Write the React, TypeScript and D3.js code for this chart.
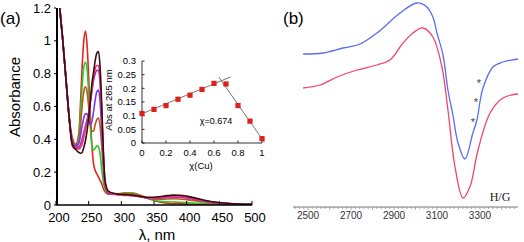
import React from "react";
import * as d3 from "d3";

// ---- panel (a): UV-vis titration ----
const wavelengths = [
  200, 205, 210, 215, 220, 225, 230, 235, 237.5, 240, 242.5, 245, 247.5, 250, 252.5, 255, 257.5, 260,
  262.5, 265, 267.5, 270, 272.5, 275, 280, 290, 300, 310, 320, 330, 340, 350, 360, 370, 380, 390, 400,
  420, 440, 460, 480, 500,
];

const absRed = [
  1.7, 1.25, 1.02, 0.78, 0.54, 0.41, 0.37, 0.44, 0.62, 0.84, 1.0, 1.06, 0.98, 0.78, 0.54, 0.36, 0.25, 0.21,
  0.19, 0.17, 0.15, 0.13, 0.1, 0.08, 0.066, 0.066, 0.07, 0.075, 0.072, 0.058, 0.042, 0.028, 0.017, 0.011,
  0.008, 0.007, 0.006, 0.005, 0.004, 0.003, 0.002, 0.002,
];
const absGreen = [
  1.7, 1.25, 1.02, 0.78, 0.54, 0.39, 0.36, 0.42, 0.56, 0.72, 0.84, 0.87, 0.83, 0.68, 0.48, 0.36, 0.335,
  0.345, 0.36, 0.355, 0.31, 0.22, 0.14, 0.095, 0.07, 0.068, 0.07, 0.073, 0.068, 0.055, 0.04, 0.03, 0.022,
  0.019, 0.018, 0.017, 0.015, 0.01, 0.007, 0.005, 0.003, 0.002,
];
const absBrown = [
  1.7, 1.25, 1.02, 0.78, 0.54, 0.36, 0.34, 0.38, 0.48, 0.6, 0.69, 0.72, 0.69, 0.6, 0.5, 0.45, 0.45,
  0.49, 0.52, 0.53, 0.48, 0.36, 0.22, 0.12, 0.07, 0.065, 0.066, 0.066, 0.063, 0.052, 0.042, 0.036, 0.035,
  0.037, 0.038, 0.037, 0.033, 0.022, 0.012, 0.007, 0.004, 0.003,
];
const absViolet = [
  1.7, 1.25, 1.02, 0.78, 0.54, 0.38, 0.36, 0.38, 0.42, 0.48, 0.53, 0.555, 0.555, 0.52, 0.49, 0.51, 0.57,
  0.64, 0.69, 0.7, 0.63, 0.46, 0.26, 0.13, 0.075, 0.066, 0.062, 0.06, 0.058, 0.05, 0.043, 0.041, 0.043,
  0.047, 0.049, 0.048, 0.043, 0.028, 0.016, 0.009, 0.005, 0.003,
];
const absPurple = [
  1.7, 1.25, 1.02, 0.78, 0.54, 0.37, 0.35, 0.35, 0.37, 0.4, 0.44, 0.48, 0.52, 0.56, 0.62, 0.69, 0.76,
  0.8, 0.82, 0.82, 0.74, 0.54, 0.3, 0.14, 0.08, 0.067, 0.062, 0.059, 0.056, 0.05, 0.044, 0.043, 0.046,
  0.05, 0.052, 0.051, 0.046, 0.03, 0.017, 0.01, 0.005, 0.003,
];
const absMagenta = [
  1.7, 1.25, 1.02, 0.78, 0.54, 0.37, 0.35, 0.34, 0.35, 0.37, 0.41, 0.46, 0.5, 0.56, 0.63, 0.71, 0.78,
  0.83, 0.85, 0.85, 0.77, 0.57, 0.31, 0.14, 0.08, 0.066, 0.06, 0.058, 0.055, 0.05, 0.044, 0.043, 0.046,
  0.05, 0.052, 0.051, 0.046, 0.03, 0.017, 0.01, 0.005, 0.003,
];
const absDark = [
  1.7, 1.25, 1.02, 0.78, 0.54, 0.37, 0.34, 0.32, 0.315, 0.32, 0.35, 0.39, 0.45, 0.53, 0.63, 0.74, 0.81,
  0.88, 0.925, 0.935, 0.84, 0.61, 0.33, 0.15, 0.085, 0.07, 0.065, 0.062, 0.058, 0.052, 0.047, 0.047,
  0.052, 0.057, 0.06, 0.059, 0.054, 0.036, 0.02, 0.011, 0.006, 0.004,
];

const uvSeries = [
  { values: absRed, color: "#e8231d" },
  { values: absGreen, color: "#2cc52a" },
  { values: absBrown, color: "#b8561e" },
  { values: absViolet, color: "#7c35e6" },
  { values: absPurple, color: "#9b2fb8" },
  { values: absMagenta, color: "#f0347c" },
  { values: absDark, color: "#3d0b0e" },
];

const uvXTicks = [200, 250, 300, 350, 400, 450, 500];
const uvYTicks = [0, 0.2, 0.4, 0.6, 0.8, 1, 1.2];

// ---- inset: Job plot ----
const chiCu = [0, 0.1, 0.2, 0.3, 0.4, 0.5, 0.6, 0.7, 0.8, 0.9, 1.0];
const abs265 = [0.108, 0.123, 0.137, 0.16, 0.175, 0.196, 0.218, 0.216, 0.137, 0.08, 0.016];
const fitRising = [
  [0, 0.107],
  [0.74, 0.242],
];
const fitFalling = [
  [0.64, 0.241],
  [1.02, 0.003],
];
const insetXTicks = [0, 0.2, 0.4, 0.6, 0.8, 1];
const insetYTicks = [0, 0.05, 0.1, 0.15, 0.2, 0.25, 0.3];

// ---- panel (b): EPR ----
const eprBlueField = [
  2477, 2570, 2663, 2742, 2821, 2928, 3007, 3053, 3081, 3100, 3128, 3151, 3174, 3198, 3230, 3267, 3286,
  3300, 3314, 3360, 3407, 3477,
];
const eprBlue = [
  0.51, 0.52, 0.57, 0.61, 0.72, 0.92, 1.02, 0.98, 0.88, 0.72, 0.5, 0.15, -0.1, -0.38, -0.54, -0.28, -0.15,
  0.03, 0.17, 0.38, 0.43, 0.46,
];
const eprRedField = [
  2477, 2556, 2635, 2728, 2821, 2881, 2942, 2988, 3035, 3081, 3123, 3151, 3184, 3221, 3253, 3291, 3347,
  3407, 3477,
];
const eprRed = [
  0.17, 0.2, 0.28, 0.35, 0.4, 0.45, 0.62, 0.72, 0.77, 0.68, 0.38, -0.05, -0.62, -0.93, -0.82, -0.45, -0.08,
  0.07, 0.11,
];
const starField = [3267, 3281, 3295];
const starSignal = [-0.16, 0.04, 0.23];
const eprLabelTicks = [2500, 2700, 2900, 3100, 3300];

const sans = "'Liberation Sans', Arial, sans-serif";
const serif = "'Liberation Serif', 'Times New Roman', serif";

export default function App() {
  // main UV axes
  const x = d3.scaleLinear().domain([200, 500]).range([56, 252]);
  const y = d3.scaleLinear().domain([0, 1.2]).range([205, 8]);
  const uvLine = d3
    .line<number>()
    .x((_, i) => x(wavelengths[i]))
    .y((d) => y(d))
    .curve(d3.curveMonotoneX);

  // inset axes
  const ix = d3.scaleLinear().domain([0, 1]).range([142, 262]);
  const iy = d3.scaleLinear().domain([0, 0.3]).range([143, 61]);
  const fitLine = d3
    .line<number[]>()
    .x((d) => ix(d[0]))
    .y((d) => iy(d[1]));

  // EPR axes
  const ex = d3.scaleLinear().domain([2430, 3477]).range([293, 518]);
  const ey = d3.scaleLinear().domain([-1, 1]).range([205, 5]);
  const eprLine = (field: number[]) =>
    d3
      .line<number>()
      .x((_, i) => ex(field[i]))
      .y((d) => ey(d))
      .curve(d3.curveCatmullRom.alpha(0.5));
  const minorTicks = d3.range(2440, 3477, 20);

  return (
    <svg
      width={524}
      height={242}
      style={{ position: "absolute", left: 0, top: 0, background: "#fff" }}
      fontFamily={sans}
    >
      <defs>
        <clipPath id="uvclip">
          <rect x={x(200)} y={y(1.2)} width={x(500) - x(200)} height={y(0) - y(1.2)} />
        </clipPath>
      </defs>

      {/* panel (a) */}
      <text x={0} y={24} fontSize={17}>
        (a)
      </text>
      <g clipPath="url(#uvclip)">
        {uvSeries.map((s, i) => (
          <path key={i} d={uvLine(s.values) || ""} fill="none" stroke={s.color} strokeWidth={1.6} />
        ))}
      </g>
      <line x1={x(200) + 1} x2={x(200) + 1} y1={y(1.2)} y2={y(0)} stroke="#000" strokeWidth={2} />
      <line x1={x(200)} x2={x(500)} y1={y(0)} y2={y(0)} stroke="#000" strokeWidth={1.3} />
      {uvYTicks.map((t) => (
        <g key={t}>
          <line x1={x(200) - 2} x2={x(200)} y1={y(t)} y2={y(t)} stroke="#000" />
          <text x={x(200) - 5} y={y(t) + 4.5} fontSize={13} textAnchor="end">
            {String(t)}
          </text>
        </g>
      ))}
      {uvXTicks.map((t) => (
        <g key={t}>
          <line x1={x(t)} x2={x(t)} y1={y(0)} y2={y(0) - 4} stroke="#000" />
          <text x={x(t) + 3} y={222} fontSize={13} textAnchor="middle">
            {t}
          </text>
        </g>
      ))}
      <text x={157} y={240} fontSize={15} textAnchor="middle">
        λ, nm
      </text>
      <text transform="translate(20,97) rotate(-90)" fontSize={15} textAnchor="middle">
        Absorbance
      </text>

      {/* inset */}
      <line x1={ix(0)} x2={ix(0)} y1={iy(0.3)} y2={iy(0)} stroke="#000" strokeWidth={0.8} />
      <line x1={ix(0)} x2={ix(1)} y1={iy(0)} y2={iy(0)} stroke="#000" strokeWidth={0.8} />
      {insetYTicks.map((t) => (
        <g key={t}>
          <line x1={ix(0)} x2={ix(0) + 2.5} y1={iy(t)} y2={iy(t)} stroke="#000" strokeWidth={0.8} />
          <text x={ix(0) - 6} y={iy(t) + 3.3} fontSize={9.5} textAnchor="end">
            {String(t)}
          </text>
        </g>
      ))}
      {insetXTicks.map((t) => (
        <g key={t}>
          <line x1={ix(t)} x2={ix(t)} y1={iy(0)} y2={iy(0) - 2.5} stroke="#000" strokeWidth={0.8} />
          <text x={ix(t)} y={iy(0) + 12.5} fontSize={9.5} textAnchor="middle">
            {String(t)}
          </text>
        </g>
      ))}
      <text transform="translate(112,100) rotate(-90)" fontSize={9.5} textAnchor="middle">
        Abs at 265 nm
      </text>
      <text x={201} y={168.5} fontSize={9.5} textAnchor="middle">
        χ(Cu)
      </text>
      <path d={fitLine(fitRising) || ""} stroke="#555" strokeWidth={0.8} fill="none" />
      <path d={fitLine(fitFalling) || ""} stroke="#555" strokeWidth={0.8} fill="none" />
      {chiCu.map((c, i) => (
        <rect
          key={i}
          x={ix(c) - 2.6}
          y={iy(abs265[i]) - 2.6}
          width={5.2}
          height={5.2}
          fill="#e0201c"
        />
      ))}
      <text x={216} y={124} fontSize={9} textAnchor="middle">
        χ=0.674
      </text>

      {/* panel (b) */}
      <text x={283} y={24} fontSize={17}>
        (b)
      </text>
      <path d={eprLine(eprBlueField)(eprBlue) || ""} fill="none" stroke="#5a6cf0" strokeWidth={1.3} />
      <path d={eprLine(eprRedField)(eprRed) || ""} fill="none" stroke="#f0446a" strokeWidth={1.3} />
      {starField.map((f, i) => (
        <text
          key={i}
          x={ex(f)}
          y={ey(starSignal[i]) + 5}
          fontSize={11}
          fill="#444"
          textAnchor="middle"
        >
          *
        </text>
      ))}
      <line x1={ex(2430)} x2={ex(3477)} y1={207} y2={207} stroke="#777" strokeWidth={1} />
      {minorTicks.map((t) => (
        <line
          key={t}
          x1={ex(t)}
          x2={ex(t)}
          y1={207}
          y2={t % 100 === 0 ? 210 : 209}
          stroke="#888"
          strokeWidth={0.7}
        />
      ))}
      {eprLabelTicks.map((t) => (
        <text key={t} x={ex(t)} y={219} fontSize={10} textAnchor="middle" fill="#333">
          {t}
        </text>
      ))}
      <text x={500} y={201} fontSize={12} textAnchor="middle" fontFamily={serif} fill="#222">
        H/G
      </text>
    </svg>
  );
}
